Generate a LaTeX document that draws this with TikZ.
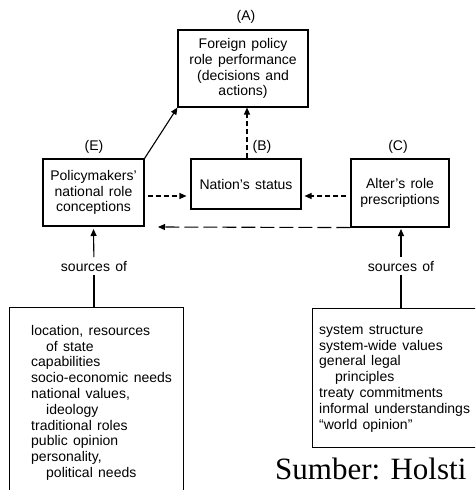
\documentclass[tikz,border=0pt]{standalone}
\usepackage{fontspec}
\setmainfont{Liberation Sans}
\newfontfamily\serifsrc{Liberation Serif}
\usetikzlibrary{arrows.meta,calc}
\newcommand\mywsp{\spaceskip=0.38em plus 0.1em\relax}
\begin{document}
\begin{tikzpicture}[x=1pt,y=-1pt,
  txt/.style={font=\fontsize{14}{15.8}\selectfont\mywsp},
  box/.style={draw,line width=1.1pt,inner sep=0pt,align=center,txt},
  lab/.style={inner sep=0pt,txt},
  src/.style={inner sep=3.5pt,txt},
  lst/.style={inner sep=0pt,align=left,txt},
  tip/.style={-{Triangle[length=7pt,width=6pt]}},
  solidln/.style={line width=1.1pt},
  dsh/.style={line width=1.1pt,dash pattern=on 5pt off 3pt},
  ldsh/.style={line width=1.1pt,dash pattern=on 14pt off 5pt}]
\useasboundingbox (0,0) rectangle (475,490);
\begin{scope}
\clip (0,0) rectangle (475,490);
% main boxes
\node[box,minimum width=130pt,minimum height=77pt] (A) at (243,68.5)
  {Foreign policy\\role performance\\(decisions and\\actions)};
\node[box,minimum width=101pt,minimum height=67pt] (E) at (93.5,192.5)
  {Policymakers'\\national role\\conceptions};
\node[box,minimum width=110pt,minimum height=50pt] (B) at (246,184)
  {Nation's status};
\node[box,minimum width=98pt,minimum height=68pt] (C) at (400,193)
  {Alter's role\\prescriptions};
% labels
\node[lab] (la) at (246,17) {(A)};
\node[lab] (le) at (94,147) {(E)};
\node[lab] (lb) at (262,147) {(B)};
\node[lab] (lc) at (398,147) {(C)};
% source boxes
\node[draw,line width=1.1pt,inner sep=0pt,anchor=north west,minimum width=174pt,minimum height=200pt] (L) at (9,307) {};
\node[draw,line width=1.1pt,inner sep=0pt,anchor=north west,minimum width=180pt,minimum height=139pt] (R) at (312,308) {};
\node[lst,anchor=north west] (Lt) at (31,325)
  {location, resources\\\hspace*{15pt}of state\\capabilities\\socio-economic needs\\national values,\\\hspace*{15pt}ideology\\traditional roles\\public opinion\\personality,\\\hspace*{15pt}political needs};
\node[lst,anchor=north west] (Rt) at (319,325)
  {system structure\\system-wide values\\general legal\\\hspace*{16pt}principles\\treaty commitments\\informal understandings\\``world opinion''};
% sources of
\node[src] (s1) at (94,266) {sources of};
\node[src] (s2) at (401,266) {sources of};
\coordinate (LT) at (94,307);
\coordinate (RT) at (401,308);
\draw[solidln] (LT) -- (s1);
\draw[solidln,tip] (s1) -- (E.south |- 0,229);
\draw[solidln] (RT) -- (s2);
\draw[solidln,tip] (s2) -- (401,229);
% connectors
\draw[solidln,tip] (E.north east) -- (A.south west);
\draw[dsh,tip] (B.north -| 247,0) -- (A.south -| 247,0);
\draw[dsh,tip] ($(E.east |- 0,196)+(3,0)$) -- ($(B.west |- 0,196)+(-4,0)$);
\draw[dsh,tip] ($(C.west |- 0,196)+(-4,0)$) -- ($(B.east |- 0,196)+(3,0)$);
\coordinate (lend) at (158,227);
\draw[ldsh,tip] (C.south west) -- (lend);
\end{scope}
\node[inner sep=0pt,anchor=base west,font=\serifsrc\fontsize{31}{31}\selectfont] (sb) at (275,479) {Sumber: Holsti};
\end{tikzpicture}
\end{document}
